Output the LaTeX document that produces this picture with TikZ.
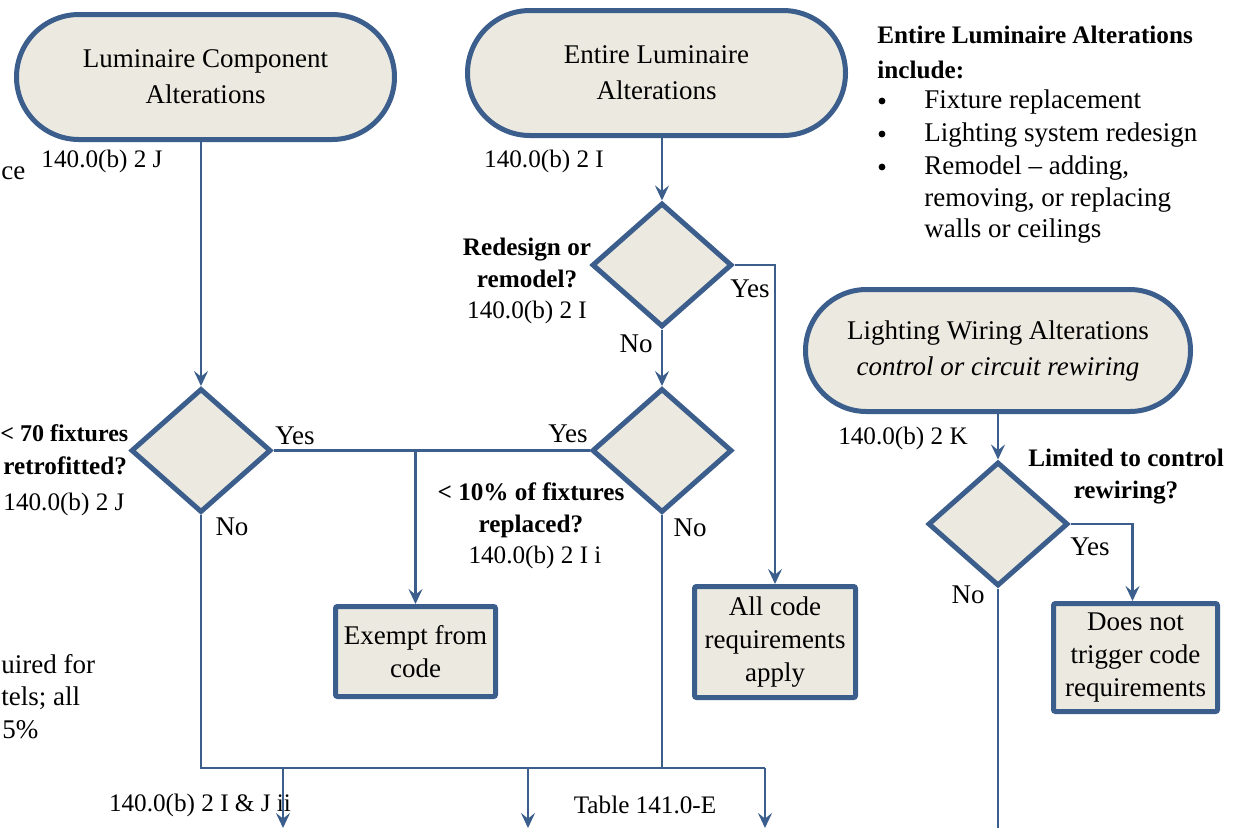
\documentclass[tikz,border=0pt]{standalone}
\usepackage{fontspec}
\setmainfont{Liberation Serif}
\usepackage{xcolor}
\definecolor{flowblue}{RGB}{59,94,140}
\definecolor{flowfill}{RGB}{236,234,224}
\usetikzlibrary{arrows.meta, shapes.geometric, shapes.misc}

\begin{document}
\begin{tikzpicture}[x=0.5pt, y=-0.5pt,
  font=\fontsize{13.5}{18}\selectfont,
  term/.style={rounded rectangle, draw=flowblue, fill=flowfill, line width=2.5pt,
    minimum width=189pt, minimum height=62.5pt, align=center, inner sep=0pt},
  decide/.style={diamond, draw=flowblue, fill=flowfill, line width=2.5pt,
    minimum width=70pt, minimum height=62pt, inner sep=0pt},
  result/.style={rectangle, draw=flowblue, fill=flowfill, line width=2.5pt,
    rounded corners=1pt, align=center, inner sep=0pt,
    font=\fontsize{13.5}{16.5}\selectfont},
  ask/.style={font=\fontsize{12.6}{16}\selectfont\bfseries, align=center},
  cite/.style={font=\fontsize{12.6}{16}\selectfont},
  dot/.style={circle, fill=black, inner sep=0pt, minimum size=3.4pt},
  link/.style={draw=flowblue, line width=1.4pt},
  arr/.style={link, -{Stealth[length=7.5pt, width=7pt, inset=2.8pt]}},
]
  \useasboundingbox (0,0) rectangle (1241,827);
  \clip (0,0) rectangle (1241,827);

  % Start terminals
  \node[term] (t1) at (205.5,77) {Luminaire Component\\Alterations};
  \node[term] (t2) at (656.5,73) {Entire Luminaire\\Alterations};
  \node[term, minimum width=192.5pt, minimum height=61pt] (t3) at (998,350.5)
       {Lighting Wiring Alterations\\\textit{control or circuit rewiring}};

  % Decisions
  \node[decide] (d1) at (201,450.5) {};
  \node[decide] (d2) at (662,265) {};
  \node[decide] (d3) at (662,450.5) {};
  \node[decide] (d4) at (998,524) {};

  % Outcomes
  \node[result, minimum width=80pt, minimum height=45pt] (exempt) at (415.5,651.5)
       {Exempt from\\code};
  \node[result, minimum width=80.5pt, minimum height=55.5pt] (allcode) at (775,642)
       {All code\\requirements\\apply};
  \node[result, minimum width=82pt, minimum height=54pt] (notrig) at (1135.5,657.5)
       {Does not\\trigger code\\requirements};

  % Code references and questions
  \node[cite] (ref1) at (102,161) {140.0(b) 2 J};
  \node[cite] (ref2) at (544,161) {140.0(b) 2 I};
  \node[ask] (q2) at (527,263) {Redesign or\\remodel?};
  \node[cite] (ref3) at (527,312) {140.0(b) 2 I};
  \node[ask] (q3) at (531,510) {< 10\% of fixtures\\replaced?};
  \node[cite] (ref4) at (535,557) {140.0(b) 2 I i};
  \node[cite] (ref5) at (903,438) {140.0(b) 2 K};
  \node[ask] (q4) at (1126,477) {Limited to control\\rewiring?};
  \node[cite] (ref6) at (200,805) {140.0(b) 2 I \& J ii};
  \node[cite] (ref7) at (645,805) {Table 141.0-E};

  % Text at the left edge
  \node[anchor=base west, inner sep=0pt] (cut1) at (1,179) {ce};
  \node[ask, font=\fontsize{12}{16}\selectfont\bfseries, anchor=base west, inner sep=0pt] (q1a) at (0,441) {< 70 fixtures};
  \node[ask, anchor=base west, inner sep=0pt] (q1b) at (3,474) {retrofitted?};
  \node[cite, anchor=base west, inner sep=0pt] (ref8) at (3,510) {140.0(b) 2 J};
  \node[anchor=base west, inner sep=0pt] (cut2) at (1,673) {uired for};
  \node[anchor=base west, inner sep=0pt] (cut3) at (1,705) {tels; all};
  \node[anchor=base west, inner sep=0pt] (cut4) at (2,738) {5\%};

  % Note on entire luminaire alterations
  \node[ask, anchor=base west, inner sep=0pt] (nt1) at (877,43) {Entire Luminaire Alterations};
  \node[ask, anchor=base west, inner sep=0pt] (nt2) at (877,78) {include:};
  \node[dot] (b1) at (882,101) {};
  \node[anchor=base west, inner sep=0pt] (nt3) at (924,108) {Fixture replacement};
  \node[dot] (b2) at (882,134) {};
  \node[anchor=base west, inner sep=0pt] (nt4) at (924,141) {Lighting system redesign};
  \node[dot] (b3) at (882,167) {};
  \node[anchor=base west, inner sep=0pt] (nt5) at (924,174) {Remodel – adding,};
  \node[anchor=base west, inner sep=0pt] (nt6) at (924,206) {removing, or replacing};
  \node[anchor=base west, inner sep=0pt] (nt7) at (924,237) {walls or ceilings};

  % Free ends at the bottom
  \coordinate (jr) at (765,768);
  \coordinate (o1) at (283,828);
  \coordinate (o2) at (528,828);
  \coordinate (o3) at (765,828);

  % Connectors
  \draw[arr] (t1.south -| d1.north) -- (d1.north);
  \draw[arr] (t2.south -| d2.north) -- (d2.north);
  \draw[arr] (t3.south -| d4.north) -- (d4.north);
  \draw[arr] (d2.south) -- (d3.north);
  \draw[arr] (d2.east) -| (allcode.north);
  \draw[link] (d1.east) -- (d3.west);
  \draw[arr] (d1.east -| exempt.north) -- (exempt.north);
  \draw[arr] (d4.east) -| ([xshift=-1.5pt]notrig.north);
  \draw[link] (d1.south) |- (jr);
  \draw[link] (d3.south) -- (d3.south |- jr);
  \draw[link] (d4.south) -- (d4.south |- o1);
  \draw[arr] (o1 |- jr) -- (o1);
  \draw[arr] (o2 |- jr) -- (o2);
  \draw[arr] (jr) -- (o3);

  % Yes / No labels
  \node (y1) at (295,436) {Yes};
  \node (y2) at (568,434) {Yes};
  \node (y3) at (750,289) {Yes};
  \node (y4) at (1090,547) {Yes};
  \node (n1) at (232,527) {No};
  \node (n2) at (636,344) {No};
  \node (n3) at (690,528) {No};
  \node (n4) at (968,595) {No};
\end{tikzpicture}
\end{document}
